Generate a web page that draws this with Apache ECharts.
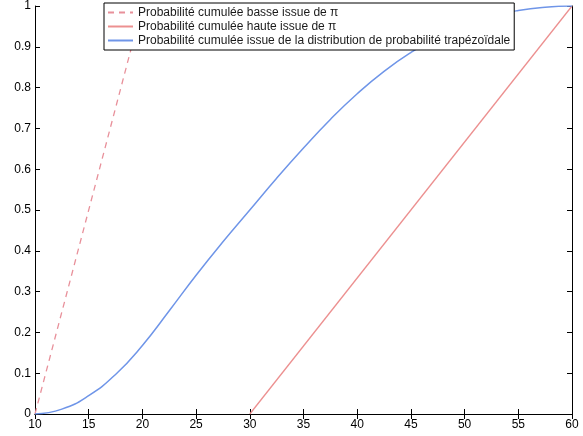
<!DOCTYPE html>
<html>
<head>
<meta charset="utf-8">
<script src="https://cdn.jsdelivr.net/npm/echarts@6/dist/echarts.min.js"></script>
<style>
  html, body { margin: 0; padding: 0; background: #fff; }
  #chart { width: 583px; height: 436px; }
</style>
</head>
<body>
<div id="chart"></div>
<script>
// Cumulative probability curves (x in the 10..60 range)
const lowX = [10, 20];
const lowY = [0, 1];
const highX = [30, 60];
const highY = [0, 1];
const trapX = [10, 12.5, 15, 17.5, 20, 22.5, 25, 27.5, 30, 32.5, 35, 37.5, 40, 42.5, 45, 47.5, 50, 52.5, 55, 57.5, 60];
const trapY = [0, 0.012, 0.045, 0.097, 0.168, 0.253, 0.34, 0.422, 0.5, 0.578, 0.652, 0.722, 0.785, 0.84, 0.886, 0.924, 0.954, 0.975, 0.989, 0.997, 1];

const seriesNames = [
  'Probabilité cumulée basse issue de π',
  'Probabilité cumulée haute issue de π',
  'Probabilité cumulée issue de la distribution de probabilité trapézoïdale'
];

const pairs = (xs, ys) => xs.map((x, i) => [x, ys[i]]);

const font = 'Liberation Sans, Arial, sans-serif';
const tickStyle = { show: true, inside: true, length: 5, lineStyle: { color: '#000', width: 1 } };
const axisLine = { show: true, lineStyle: { color: '#000', width: 1 } };

const chart = echarts.init(document.getElementById('chart'), null, { renderer: 'canvas' });
chart.setOption({
  animation: false,
  backgroundColor: '#fff',
  grid: { left: 35, right: 11, top: 6, bottom: 22, containLabel: false },
  legend: {
    show: true,
    orient: 'vertical',
    left: 104,
    top: 3,
    padding: [3, 4, 3, 3],
    itemWidth: 25,
    itemHeight: 10,
    itemGap: 1,
    backgroundColor: '#fff',
    borderColor: '#000',
    borderWidth: 1,
    itemStyle: { opacity: 0 },
    textStyle: { fontFamily: font, fontSize: 12, lineHeight: 13, color: '#1a1a1a' },
    data: seriesNames
  },
  xAxis: [
    {
      type: 'value', min: 10, max: 60, interval: 5, position: 'bottom',
      axisLine, axisTick: tickStyle, splitLine: { show: false },
      axisLabel: { color: '#000', fontFamily: font, fontSize: 12, margin: 5 }
    },
    {
      type: 'value', min: 10, max: 60, interval: 5, position: 'top',
      axisLine, axisTick: tickStyle, splitLine: { show: false },
      axisLabel: { show: false }
    }
  ],
  yAxis: [
    {
      type: 'value', min: 0, max: 1, interval: 0.1, position: 'left',
      axisLine, axisTick: tickStyle, splitLine: { show: false },
      axisLabel: { color: '#000', fontFamily: font, fontSize: 12, margin: 4,
        formatter: v => String(Math.round(v * 10) / 10) }
    },
    {
      type: 'value', min: 0, max: 1, interval: 0.1, position: 'right',
      axisLine, axisTick: tickStyle, splitLine: { show: false },
      axisLabel: { show: false }
    }
  ],
  series: [
    {
      name: seriesNames[0], type: 'line', data: pairs(lowX, lowY), showSymbol: false, symbol: 'none',
      lineStyle: { color: '#e8909a', width: 1.3, type: [6, 5] },
      itemStyle: { color: '#e8909a' }
    },
    {
      name: seriesNames[1], type: 'line', data: pairs(highX, highY), showSymbol: false, symbol: 'none',
      lineStyle: { color: '#ec9090', width: 1.3 },
      itemStyle: { color: '#ec9090' }
    },
    {
      name: seriesNames[2], type: 'line', data: pairs(trapX, trapY), showSymbol: false, symbol: 'none',
      smooth: 0.5,
      lineStyle: { color: '#6f95e8', width: 1.5 },
      itemStyle: { color: '#6f95e8' }
    }
  ]
});
</script>
</body>
</html>
